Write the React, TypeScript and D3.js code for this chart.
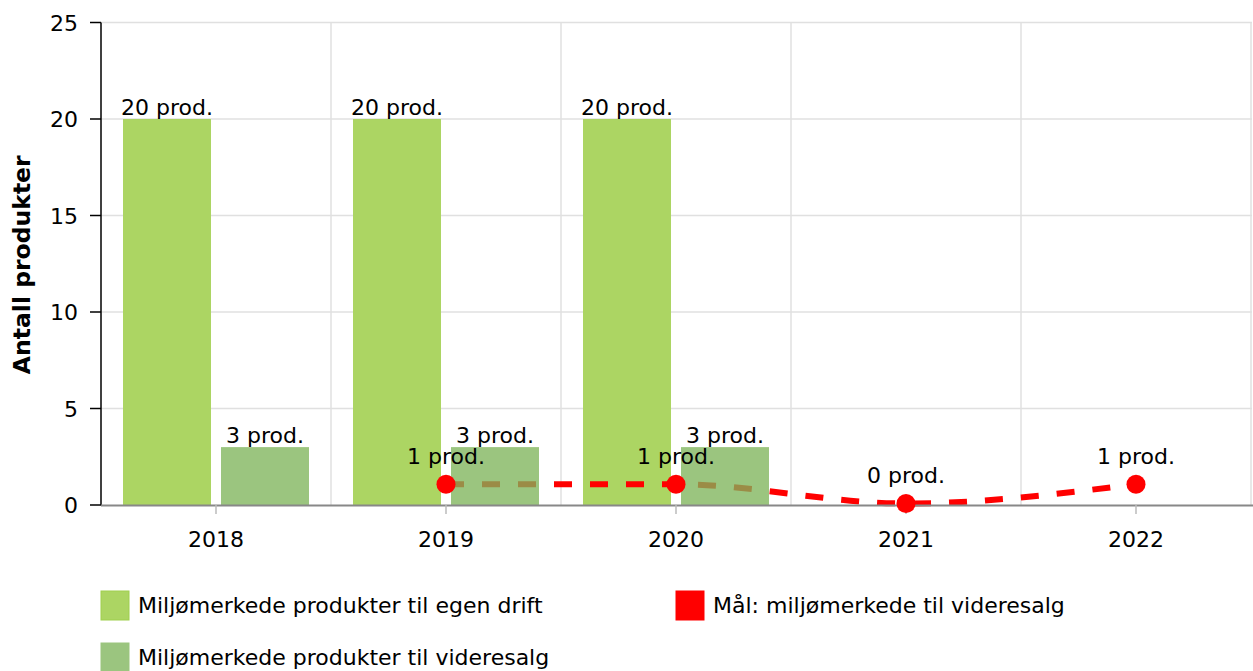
import React, { useEffect, useRef } from 'react';
import * as d3 from 'd3';

const years = ['2018', '2019', '2020', '2021', '2022'];
const egenDrift: (number | null)[] = [20, 20, 20, null, null];
const videresalg: (number | null)[] = [3, 3, 3, null, null];
const maal: (number | null)[] = [null, 1, 1, 0, 1];
const yTicks = [0, 5, 10, 15, 20, 25];

const legendItems = [
  { label: 'Miljømerkede produkter til egen drift', color: '#acd563', stroke: '#9fcf4f' },
  { label: 'Mål: miljømerkede til videresalg', color: '#ff0000', stroke: '#ff0000' },
  { label: 'Miljømerkede produkter til videresalg', color: '#9bc57f', stroke: '#9bc57f' },
];

const FONT = '"DejaVu Sans", Verdana, sans-serif';
const FS = '22px';

const App = () => {
  const ref = useRef<SVGSVGElement>(null);

  useEffect(() => {
    const svg = d3.select(ref.current);
    svg.selectAll('*').remove();

    const left = 101, right = 1251, top = 22.5, bottom = 505;

    const x0 = d3.scaleBand().domain(years).range([left, right]).padding(0);
    const x1 = d3.scaleBand().domain(['egen', 'videresalg'])
      .range([22, x0.bandwidth() - 22]).paddingInner(0.102);
    const y = d3.scaleLinear().domain([0, 25]).range([bottom, top]);
    const cx = (yr: string) => x0(yr)! + x0.bandwidth() / 2;

    // grid
    svg.append('g').selectAll('line').data(yTicks.filter(d => d > 0)).join('line')
      .attr('x1', left).attr('x2', right + 1)
      .attr('y1', d => y(d)).attr('y2', d => y(d))
      .attr('stroke', '#e0e0e0').attr('stroke-width', 1.5);

    const bounds = years.slice(1).map(d => x0(d)!).concat([right]);
    svg.append('g').selectAll('line').data(bounds).join('line')
      .attr('x1', d => d).attr('x2', d => d)
      .attr('y1', top).attr('y2', bottom)
      .attr('stroke', '#e0e0e0').attr('stroke-width', 1.5);

    // egen drift bars (below the line)
    svg.append('g').selectAll('rect')
      .data(years.map((yr, i) => ({ yr, v: egenDrift[i] })).filter(d => d.v != null))
      .join('rect')
      .attr('x', d => x0(d.yr)! + x1('egen')!)
      .attr('width', x1.bandwidth())
      .attr('y', d => y(d.v!))
      .attr('height', d => bottom - y(d.v!))
      .attr('fill', '#acd563');

    // target line
    const lineData = years.map((yr, i) => ({ yr, v: maal[i] })).filter(d => d.v != null);
    const line = d3.line<{ yr: string; v: number | null }>()
      .x(d => cx(d.yr))
      .y(d => y(d.v!) - 1.5)
      .curve(d3.curveMonotoneX);

    svg.append('path')
      .datum(lineData)
      .attr('d', line)
      .attr('fill', 'none')
      .attr('stroke', '#ff0000')
      .attr('stroke-width', 6)
      .attr('stroke-dasharray', '18,18');

    // videresalg bars (above the line, translucent)
    svg.append('g').selectAll('rect')
      .data(years.map((yr, i) => ({ yr, v: videresalg[i] })).filter(d => d.v != null))
      .join('rect')
      .attr('x', d => x0(d.yr)! + x1('videresalg')!)
      .attr('width', x1.bandwidth())
      .attr('y', d => y(d.v!))
      .attr('height', d => bottom - y(d.v!))
      .attr('fill', 'rgb(126,180,90)')
      .attr('fill-opacity', 0.776);

    // y axis
    svg.append('line')
      .attr('x1', left).attr('x2', left).attr('y1', top).attr('y2', bottom)
      .attr('stroke', '#000').attr('stroke-width', 1.5);
    const yAx = svg.append('g').style('font-family', FONT).style('font-size', FS);
    yAx.selectAll('line').data(yTicks).join('line')
      .attr('x1', 90).attr('x2', left)
      .attr('y1', d => y(d)).attr('y2', d => y(d))
      .attr('stroke', '#000').attr('stroke-width', 1.5);
    yAx.selectAll('text').data(yTicks).join('text')
      .attr('x', 78).attr('y', d => y(d) + 8)
      .attr('text-anchor', 'end')
      .text(d => d);

    svg.append('text')
      .attr('transform', `translate(30,${(top + bottom) / 2 + 1}) rotate(-90)`)
      .attr('text-anchor', 'middle')
      .style('font-family', FONT).style('font-size', '23.5px').style('font-weight', 'bold')
      .text('Antall produkter');

    // x axis
    svg.append('line')
      .attr('x1', left).attr('x2', right + 2).attr('y1', bottom + 0.5).attr('y2', bottom + 0.5)
      .attr('stroke', '#888').attr('stroke-width', 2);
    const xAx = svg.append('g').style('font-family', FONT).style('font-size', FS);
    xAx.selectAll('line').data(years).join('line')
      .attr('x1', d => cx(d)).attr('x2', d => cx(d))
      .attr('y1', bottom).attr('y2', bottom + 9)
      .attr('stroke', '#bbb').attr('stroke-width', 1.5);
    xAx.selectAll('text').data(years).join('text')
      .attr('x', d => cx(d)).attr('y', 547)
      .attr('text-anchor', 'middle')
      .text(d => d);

    // markers
    svg.append('g').selectAll('circle').data(lineData).join('circle')
      .attr('cx', d => cx(d.yr)).attr('cy', d => y(d.v!) - 1.5)
      .attr('r', 9.5).attr('fill', '#ff0000');

    // data labels
    const labels = svg.append('g')
      .style('font-family', FONT).style('font-size', FS).attr('fill', '#000')
      .attr('text-anchor', 'middle');
    years.forEach((yr, i) => {
      if (egenDrift[i] != null) {
        labels.append('text')
          .attr('x', x0(yr)! + x1('egen')! + x1.bandwidth() / 2)
          .attr('y', y(egenDrift[i]!) - 4)
          .text(`${egenDrift[i]} prod.`);
      }
      if (videresalg[i] != null) {
        labels.append('text')
          .attr('x', x0(yr)! + x1('videresalg')! + x1.bandwidth() / 2)
          .attr('y', y(videresalg[i]!) - 4)
          .text(`${videresalg[i]} prod.`);
      }
    });
    lineData.forEach(d => {
      labels.append('text')
        .attr('x', cx(d.yr))
        .attr('y', y(d.v!) - 22)
        .text(`${d.v} prod.`);
    });

    // legend
    const legendPos = [
      { x: 101, y: 591 },
      { x: 676, y: 591 },
      { x: 101, y: 643 },
    ];
    const lg = svg.append('g').style('font-family', FONT).style('font-size', FS);
    legendItems.forEach((it, i) => {
      const p = legendPos[i];
      lg.append('rect')
        .attr('x', p.x).attr('y', p.y).attr('width', 28).attr('height', 29)
        .attr('fill', it.color).attr('stroke', it.stroke).attr('stroke-width', 1);
      lg.append('text')
        .attr('x', p.x + 37).attr('y', p.y + 22)
        .text(it.label);
    });
  }, []);

  return (
    <svg
      ref={ref}
      width={1253}
      height={671}
      style={{ position: 'absolute', top: 0, left: 0, background: '#fff' }}
    />
  );
};

export default App;
